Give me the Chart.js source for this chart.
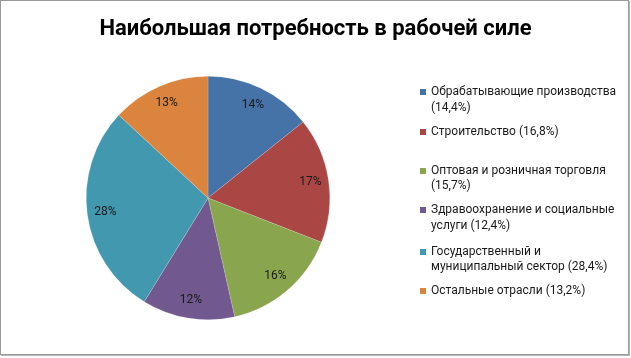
<!DOCTYPE html>
<html>
<head>
<meta charset="utf-8">
<script src="https://cdn.jsdelivr.net/npm/chart.js@4"></script>
<style>
  html, body { margin: 0; padding: 0; background: #fff; }
  #frame {
    position: absolute; left: 0; top: 0;
    width: 627px; height: 353px;
    border: 1px solid #9a9a9a;
    box-shadow: 1px 1px 0 #b5b5b5;
    background: #fff;
  }
  #title {
    position: absolute; left: 0; top: 15px; width: 631px;
    text-align: center;
    font: bold 22px Roboto, sans-serif; color: #000;
  }
  #wrap { position: absolute; left: 0; top: 0; width: 631px; height: 358px; }
  .item { position: absolute; left: 420px; width: 200px; display: flex; }
  .box { width: 6px; height: 6px; margin-top: 5px; margin-right: 5px; flex: none; }
  .txt { font: 12px Roboto, sans-serif; line-height: 15.5px; color: #1a1a1a; }
</style>
</head>
<body>
<div id="frame"></div>
<div id="wrap"><canvas id="myChart" width="631" height="358"></canvas></div>
<div id="title">Наибольшая потребность в рабочей силе</div>
<div id="legend"></div>
<script>
const categories = [
  'Обрабатывающие производства',
  'Строительство',
  'Оптовая и розничная торговля',
  'Здравоохранение и социальные услуги',
  'Государственный и муниципальный сектор',
  'Остальные отрасли'
];
const shares = [14.4, 16.8, 15.7, 12.4, 28.4, 13.2];
const colors = ['#4572a7', '#aa4643', '#89a54e', '#71588f', '#4198af', '#db843d'];

// legend line-1 centres, as Excel placed them
const legendTop = [92, 131.5, 170.5, 210, 251.5, 291];

const total = shares.reduce((a, b) => a + b, 0);

const pctLabels = {
  id: 'pctLabels',
  afterDatasetsDraw(chart) {
    const ctx = chart.ctx;
    const meta = chart.getDatasetMeta(0);
    ctx.save();
    ctx.font = '12px Roboto, sans-serif';
    ctx.fillStyle = '#1a1a1a';
    ctx.textAlign = 'center';
    ctx.textBaseline = 'middle';
    meta.data.forEach((arc, i) => {
      const p = arc.getProps(['startAngle', 'endAngle', 'outerRadius', 'x', 'y'], true);
      const mid = (p.startAngle + p.endAngle) / 2;
      const r = p.outerRadius * 0.85;
      ctx.fillText(Math.round(shares[i] / total * 100) + '%', p.x + Math.cos(mid) * r, p.y + Math.sin(mid) * r);
    });
    ctx.restore();
  }
};

const ctx = document.getElementById('myChart').getContext('2d');
new Chart(ctx, {
  type: 'pie',
  data: {
    labels: categories,
    datasets: [{
      data: shares,
      backgroundColor: colors,
      borderColor: 'rgba(255,255,255,0.35)',
      borderWidth: 0.5,
      hoverOffset: 0
    }]
  },
  options: {
    responsive: false,
    animation: false,
    layout: { padding: { left: 86, right: 301, top: 76, bottom: 38 } },
    plugins: {
      legend: { display: false },
      tooltip: { enabled: false }
    }
  },
  plugins: [pctLabels]
});

// legend built from the same arrays
const legend = document.getElementById('legend');
categories.forEach((name, i) => {
  const item = document.createElement('div');
  item.className = 'item';
  item.style.top = (legendTop[i] - 7.75) + 'px';
  const box = document.createElement('div');
  box.className = 'box';
  box.style.background = colors[i];
  const txt = document.createElement('div');
  txt.className = 'txt';
  txt.textContent = name + ' (' + String(shares[i]).replace('.', ',') + '%)';
  item.appendChild(box);
  item.appendChild(txt);
  legend.appendChild(item);
});
</script>
</body>
</html>
